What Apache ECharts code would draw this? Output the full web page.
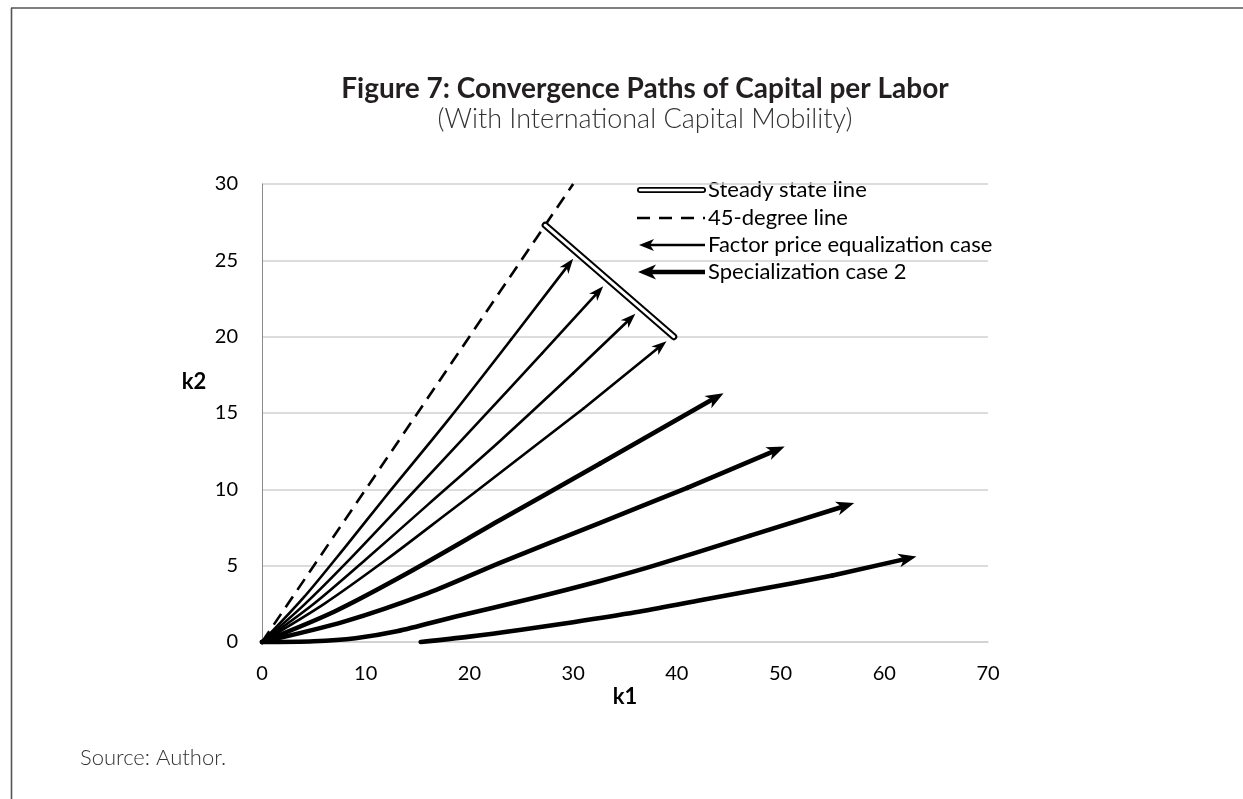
<!DOCTYPE html>
<html>
<head>
<meta charset="utf-8">
<script src="https://cdn.jsdelivr.net/npm/echarts@6/dist/echarts.min.js"></script>
<style>
html,body{margin:0;padding:0;background:#fff;}
#chart{width:1243px;height:799px;}
</style>
</head>
<body>
<div id="chart"></div>
<script>
// ---- data (k1, k2) ----
var xTicks = [0, 10, 20, 30, 40, 50, 60, 70];
var yTicks = [0, 5, 10, 15, 20, 25, 30];

var line45 = [[0, 0], [30, 30]];
var steadyState = [[27.3, 27.3], [39.7, 20.0]];

// Factor price equalization case paths (last point = arrow tip)
var fpe1 = [[0,0],[4,2.9],[8,6.2],[12,9.6],[17.9,14.5],[24,19.8],[30,25.1]];
var fpe2 = [[0,0],[4,2.4],[8,5.1],[14,9.4],[21,14.5],[27,18.9],[32.9,23.3]];
var fpe3 = [[0,0],[5,2.5],[10,5.4],[16,9.0],[23,13.2],[30,17.6],[36,21.5]];
var fpe4 = [[0,0],[6,2.5],[12,5.4],[18,8.5],[23,11.1],[31,15.3],[39,19.7]];

// Specialization case 2 paths (last point = arrow tip)
var spec1 = [[0,0],[7,2.0],[14,4.5],[23,8.0],[32.6,11.7],[44.5,16.3]];
var spec2 = [[0,0],[8,1.35],[16,3.2],[23,5.2],[32.6,7.8],[41,10.1],[50.4,12.8]];
var spec3 = [[0,0],[5,0.05],[9,0.25],[13,0.7],[18.6,1.65],[26,2.85],[32.6,4.0],[37.8,5.0],[47,6.95],[57.1,9.1]];
var spec4 = [[15.3,0],[20,0.35],[25,0.8],[30,1.3],[36,1.95],[42,2.7],[48,3.45],[55,4.35],[63.1,5.6]];

var fpePaths = [fpe1, fpe2, fpe3, fpe4];
var specPaths = [spec1, spec2, spec3, spec4];

var legendNames = ['Steady state line', '45-degree line', 'Factor price equalization case', 'Specialization case 2'];
var titleText = 'Figure 7: Convergence Paths of Capital per Labor';
var subtitleText = '(With International Capital Mobility)';
var sourceText = 'Source: Author.';

// ---- build ----
var FONT = 'Lato';
var chart = echarts.init(document.getElementById('chart'));

function arrowRender(len, half, lw) {
  return function (params, api) {
    var p0 = api.coord([api.value(0), api.value(1)]);
    var p1 = api.coord([api.value(2), api.value(3)]);
    var dx = p1[0] - p0[0], dy = p1[1] - p0[1];
    var d = Math.sqrt(dx * dx + dy * dy);
    var ux = dx / d, uy = dy / d, nx = -uy, ny = ux;
    var bx = p1[0] - ux * len, by = p1[1] - uy * len;
    var notch = [p1[0] - ux * len * 0.72, p1[1] - uy * len * 0.72];
    return {
      type: 'group',
      children: [
        { type: 'line', shape: { x1: p0[0], y1: p0[1], x2: notch[0], y2: notch[1] },
          style: { stroke: '#000', lineWidth: lw, lineCap: 'round' } },
        { type: 'polygon', shape: { points: [p1, [bx + nx * half, by + ny * half], notch, [bx - nx * half, by - ny * half]] },
          style: { fill: '#000' } }
      ]
    };
  };
}

function pathSeries(path, lw, name) {
  return {
    type: 'line', name: name, data: path.slice(0, path.length - 1),
    showSymbol: false, symbol: 'none', smooth: 0.3, clip: false, silent: true,
    lineStyle: { color: '#000', width: lw, cap: 'round', join: 'round' }, z: 4
  };
}
function arrowData(paths) {
  return paths.map(function (p) {
    var a = p[p.length - 2], b = p[p.length - 1];
    return [a[0], a[1], b[0], b[1]];
  });
}

var series = [];
series.push({
  type: 'line', name: legendNames[1], data: line45, showSymbol: false, symbol: 'none', clip: false, silent: true,
  lineStyle: { color: '#000', width: 2.6, type: [13, 8] }, z: 3
});
fpePaths.forEach(function (p) { series.push(pathSeries(p, 2.6, legendNames[2])); });
specPaths.forEach(function (p) { series.push(pathSeries(p, 4.6, legendNames[3])); });
series.push({ type: 'custom', name: 'fpeArrows', data: arrowData(fpePaths), renderItem: arrowRender(15, 5.5, 2.6), clip: false, silent: true, z: 5 });
series.push({ type: 'custom', name: 'specArrows', data: arrowData(specPaths), renderItem: arrowRender(18, 7, 4.6), clip: false, silent: true, z: 5 });
series.push({
  type: 'line', name: legendNames[0], data: steadyState, showSymbol: false, symbol: 'none', clip: false, silent: true,
  lineStyle: { color: '#000', width: 7, cap: 'round' }, z: 6
});
series.push({
  type: 'line', name: legendNames[0] + ' inner', data: steadyState, showSymbol: false, symbol: 'none', clip: false, silent: true,
  lineStyle: { color: '#fff', width: 3, cap: 'round' }, z: 7
});

// legend drawn as graphic (Excel style)
var LX0 = 637, LX1 = 705, TX = 708;
var rows = [190, 218, 245, 272];
var legendGraphics = [
  { type: 'line', shape: { x1: LX0 + 3, y1: rows[0], x2: LX1 - 2, y2: rows[0] }, style: { stroke: '#000', lineWidth: 6, lineCap: 'round' } },
  { type: 'line', shape: { x1: LX0 + 3, y1: rows[0], x2: LX1 - 2, y2: rows[0] }, style: { stroke: '#fff', lineWidth: 2.4, lineCap: 'round' } },
  { type: 'line', shape: { x1: LX0, y1: rows[1], x2: LX1, y2: rows[1] }, style: { stroke: '#000', lineWidth: 2.6, lineDash: [13, 9] } },
  { type: 'line', shape: { x1: LX0 + 10, y1: rows[2], x2: LX1, y2: rows[2] }, style: { stroke: '#000', lineWidth: 2.6 } },
  { type: 'polygon', shape: { points: [[LX0 + 2, rows[2]], [LX0 + 17, rows[2] - 6], [LX0 + 13, rows[2]], [LX0 + 17, rows[2] + 6]] }, style: { fill: '#000' } },
  { type: 'line', shape: { x1: LX0 + 10, y1: rows[3], x2: LX1, y2: rows[3] }, style: { stroke: '#000', lineWidth: 4.6 } },
  { type: 'polygon', shape: { points: [[LX0 + 1, rows[3]], [LX0 + 19, rows[3] - 7.5], [LX0 + 14, rows[3]], [LX0 + 19, rows[3] + 7.5]] }, style: { fill: '#000' } }
];
legendNames.forEach(function (n, i) {
  legendGraphics.push({ type: 'text', x: TX, y: rows[i], style: { text: n, fill: '#000', font: '22px ' + FONT, textVerticalAlign: 'middle', textAlign: 'left' } });
});

var option = {
  backgroundColor: '#fff',
  animation: false,
  title: {
    text: titleText, subtext: subtitleText, left: 640, top: 70, textAlign: 'center', itemGap: 2,
    textStyle: { fontFamily: FONT, fontWeight: 'bold', fontSize: 28, lineHeight: 28, color: '#231f20' },
    subtextStyle: { fontFamily: FONT, fontWeight: 300, fontSize: 27, lineHeight: 28, color: '#333' }
  },
  grid: { left: 262, top: 184, width: 726, height: 458, containLabel: false },
  xAxis: {
    type: 'value', min: xTicks[0], max: xTicks[xTicks.length - 1], interval: 10,
    axisLine: { show: true, lineStyle: { color: '#d0d0d0', width: 1.5 } },
    axisTick: { show: false }, splitLine: { show: false },
    axisLabel: { color: '#000', fontFamily: FONT, fontSize: 20, margin: 22 }
  },
  yAxis: {
    type: 'value', min: yTicks[0], max: yTicks[yTicks.length - 1], interval: 5,
    axisLine: { show: true, lineStyle: { color: '#8a8a8a', width: 1 } },
    axisTick: { show: false },
    splitLine: { show: true, lineStyle: { color: '#d0d0d0', width: 1.5 } },
    axisLabel: { color: '#000', fontFamily: FONT, fontSize: 20, margin: 24 }
  },
  graphic: [
    { type: 'line', shape: { x1: 11, y1: 8, x2: 1243, y2: 8 }, style: { stroke: '#555', lineWidth: 1.6 } },
    { type: 'line', shape: { x1: 11.5, y1: 8, x2: 11.5, y2: 799 }, style: { stroke: '#555', lineWidth: 1.6 } },
    { type: 'text', x: 194, y: 382, style: { text: 'k2', font: 'bold 22px ' + FONT, fill: '#000', textAlign: 'center', textVerticalAlign: 'middle' } },
    { type: 'text', x: 625, y: 697, style: { text: 'k1', font: 'bold 22px ' + FONT, fill: '#000', textAlign: 'center', textVerticalAlign: 'middle' } },
    { type: 'text', x: 80, y: 758, style: { text: sourceText, font: '300 22px ' + FONT, fill: '#333', textAlign: 'left', textVerticalAlign: 'middle' } },
    { type: 'group', children: legendGraphics }
  ],
  series: series
};
chart.setOption(option);
</script>
</body>
</html>
